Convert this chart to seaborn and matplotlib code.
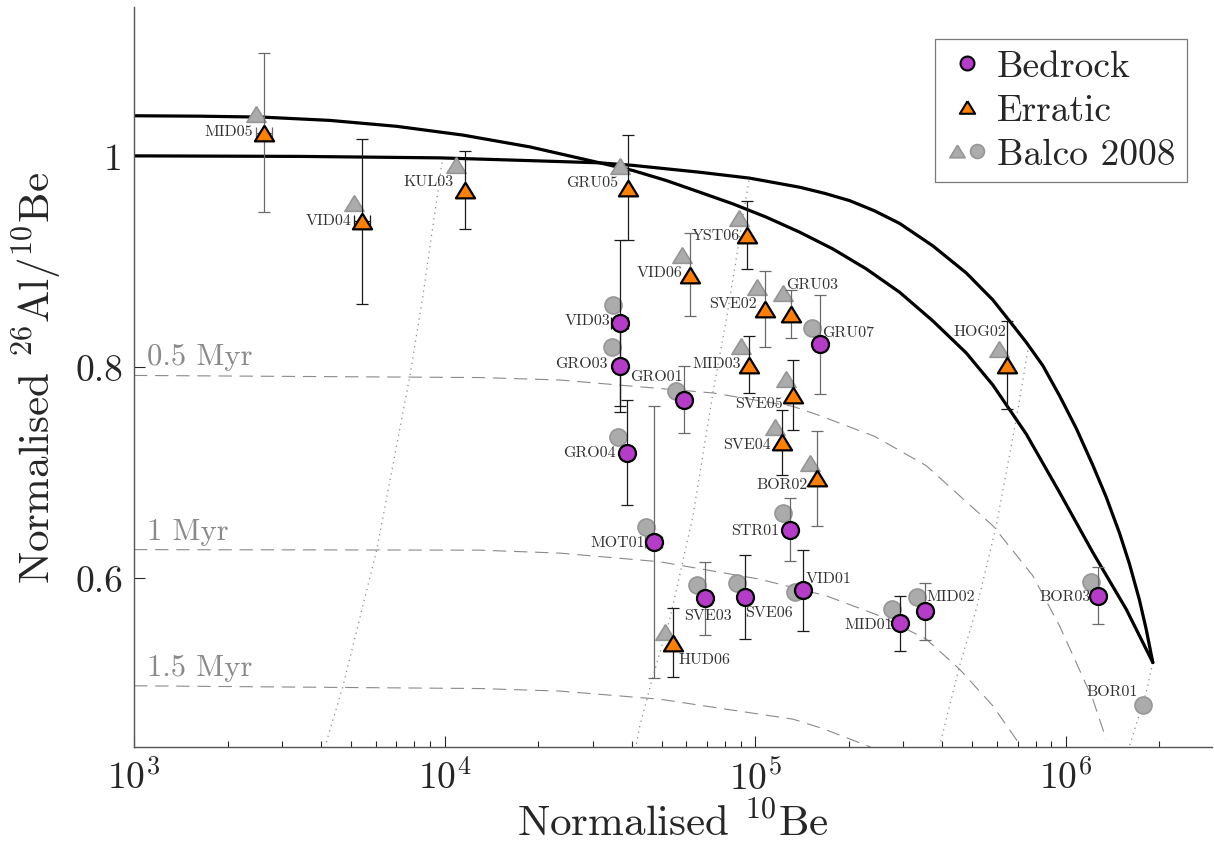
import numpy as np
import pandas as pd
import matplotlib
matplotlib.use('Agg')
import matplotlib.pyplot as plt
import seaborn as sns
from matplotlib.lines import Line2D
from matplotlib.legend_handler import HandlerTuple
from matplotlib.ticker import FixedLocator, FuncFormatter, LogLocator, NullFormatter

# ---- data ----
# erratics (orange triangles)
err_names = ['MID05', 'VID04', 'KUL03', 'GRU05', 'YST06', 'VID06', 'SVE02', 'GRU03',
             'MID03', 'SVE05', 'SVE04', 'BOR02', 'HUD06', 'HOG02']
err_be = [2627, 5430, 11600, 39000, 93900, 61600, 107900, 130200,
          95590, 132400, 122400, 158700, 54580, 645700]
err_ratio = [1.022, 0.938, 0.968, 0.970, 0.925, 0.8875, 0.855, 0.850,
             0.802, 0.7735, 0.7286, 0.6945, 0.539, 0.802]
err_dratio = [0.075, 0.078, 0.037, 0.050, 0.0325, 0.039, 0.036, 0.023,
              0.027, 0.0334, 0.031, 0.045, 0.0325, 0.0417]
err_dbe = [160, 330, 0, 0, 0, 0, 0, 0, 0, 0, 0, 0, 0, 0]

# bedrock (purple circles)
bed_names = ['VID03', 'GRO03', 'GRU07', 'GRO01', 'GRO04', 'STR01', 'MOT01', 'SVE03',
             'SVE06', 'VID01', 'MID01', 'MID02', 'BOR03']
bed_be = [36650, 36650, 162200, 59000, 38540, 129900, 47170, 68840,
          92570, 142600, 292100, 351600, 1276000]
bed_ratio = [0.8417, 0.801, 0.8215, 0.769, 0.719, 0.6458, 0.6344, 0.5807,
             0.5823, 0.5883, 0.5573, 0.5684, 0.5832]
bed_dratio = [0.079, 0.044, 0.047, 0.032, 0.050, 0.030, 0.129, 0.0345,
              0.040, 0.038, 0.026, 0.027, 0.027]
bed_dbe = [2200, 0, 0, 0, 0, 0, 2800, 0, 0, 0, 0, 0, 0]

# Balco 2008 values (grey)
balco_tri_be = [2470, 5117, 10900, 36650, 88700, 58050, 101700, 122700,
                89900, 125500, 115600, 149900, 51400, 608000]
balco_tri_ratio = [1.0398, 0.9555, 0.9918, 0.9908, 0.9412, 0.9065, 0.876, 0.870,
                   0.820, 0.7886, 0.7434, 0.709, 0.5485, 0.817]
balco_circ_names = bed_names + ['BOR01']
balco_circ_be = [34740, 34700, 152800, 55800, 36300, 123000, 44460, 64860,
                 87470, 134100, 275900, 332000, 1208000, 1780000]
balco_circ_ratio = [0.859, 0.8192, 0.837, 0.7775, 0.734, 0.6616, 0.648, 0.5934,
                    0.595, 0.587, 0.5706, 0.5817, 0.596, 0.4796]

# model curves
outer_be = [1000, 3420, 9660, 18820, 31610, 40460, 66320, 96070, 139200, 167500,
            201600, 242600, 292100, 373800, 478600, 583100, 659800, 746700, 844600,
            955900, 1082000, 1223000, 1351000, 1491000, 1606000, 1729000, 1817000, 1909000]
outer_ratio = [1.0, 0.9995, 0.9981, 0.9955, 0.9934, 0.991, 0.9845, 0.9789, 0.9703, 0.9645,
               0.9576, 0.9479, 0.936, 0.9147, 0.8891, 0.8635, 0.8436, 0.8234, 0.8013,
               0.7728, 0.7419, 0.7071, 0.6768, 0.6427, 0.6133, 0.5792, 0.5517, 0.520]
inner_be = [1000, 1631, 2601, 4273, 7008, 11450, 18820, 31610, 40460, 51820, 66320, 84890,
            108750, 139200, 178100, 228100, 292100, 373800, 478600, 583100, 746700,
            955900, 1223000, 1567000, 1909000]
inner_ratio = [1.038, 1.0376, 1.0367, 1.0336, 1.028, 1.0197, 1.0085, 0.9934, 0.9861, 0.9766,
               0.9656, 0.9545, 0.9419, 0.9277, 0.9118, 0.8929, 0.8708, 0.8436, 0.8133,
               0.7829, 0.7365, 0.6812, 0.6244, 0.5706, 0.520]

# burial isochrons
iso_labels = ['0.5 Myr', '1 Myr', '1.5 Myr']
iso05_be = [1000, 12990, 23500, 38530, 73200, 132400, 161400, 217100, 242600, 355900,
            583100, 784400, 955900, 1223000, 1351000]
iso05_ratio = [0.792, 0.790, 0.7877, 0.7823, 0.7754, 0.7627, 0.754, 0.7396, 0.7343, 0.7065,
               0.6496, 0.6022, 0.5548, 0.4853, 0.4474]
iso10_be = [1000, 12990, 23500, 49320, 103400, 169600, 251800, 355900, 455400, 583100, 721100]
iso10_ratio = [0.627, 0.6265, 0.6237, 0.6155, 0.599, 0.5832, 0.5643, 0.5422, 0.5137, 0.479, 0.44]
iso15_be = [1000, 12990, 23500, 49320, 80850, 132400, 165100, 235500]
iso15_ratio = [0.498, 0.4954, 0.493, 0.4853, 0.4758, 0.4664, 0.4575, 0.44]

# burial paths (dotted)
path1_be = [9874, 8516, 7733, 6055, 4707, 4120]
path1_ratio = [0.999, 0.8673, 0.7915, 0.6275, 0.4976, 0.4403]
path2_be = [95500, 80850, 73200, 63100, 53110, 46930, 42530, 41280]
path2_ratio = [0.9766, 0.8455, 0.776, 0.659, 0.5611, 0.5074, 0.46, 0.44]
path3_be = [755600, 693400, 597900, 515600, 455400, 392800]
path3_ratio = [0.8155, 0.7507, 0.6496, 0.5706, 0.5168, 0.441]
path4_be = [1909000, 1817000, 1606000]
path4_ratio = [0.52, 0.4916, 0.441]

# ---- styling ----
purple = '#B43CC8'
orange = '#FF8000'
grey_face = '#ABABAB'
grey_edge = '#969696'
tri = [(0, 0.82), (-1, -0.82), (1, -0.82), (0, 0.82)]
grey_err = {'MID05', 'VID06', 'SVE02', 'GRU03', 'GRU07', 'GRO01', 'BOR02', 'MOT01',
            'STR01', 'SVE03', 'MID02', 'BOR03'}
# label offsets in points (dx, dy, ha)
label_pos = {
    'MID05': (-8, 1, 'right'), 'VID04': (-8, 1, 'right'), 'KUL03': (-8, 6, 'right'),
    'GRU05': (-7, 4, 'right'), 'YST06': (-5, 0, 'right'), 'VID06': (-5, 2, 'right'),
    'SVE02': (-6, 4, 'right'), 'GRU03': (-3, 22, 'left'), 'GRU07': (1, 9, 'left'),
    'VID03': (-7, 2, 'right'), 'GRO03': (-9, 2, 'right'), 'GRO01': (-1, 17, 'right'),
    'MID03': (-6, 1, 'right'), 'SVE05': (-7, -6, 'right'), 'SVE04': (-8, -1, 'right'),
    'BOR02': (-7, -4, 'right'), 'GRO04': (-8, 0, 'right'), 'STR01': (-8, 0, 'right'),
    'MOT01': (-6, 0, 'right'), 'HUD06': (4, -12, 'left'), 'SVE03': (2, -12, 'center'),
    'SVE06': (0, -11, 'left'), 'VID01': (2, 9, 'left'), 'MID01': (-5, -1, 'right'),
    'MID02': (1, 11, 'left'), 'HOG02': (0, 24, 'right'), 'BOR03': (-6, 0, 'right'),
    'BOR01': (-4, 10, 'right'),
}

sns.set_style('white')
plt.rcParams['font.family'] = ['cmr10', 'DejaVu Serif']
plt.rcParams['mathtext.fontset'] = 'cm'
plt.rcParams['axes.formatter.use_mathtext'] = True
plt.rcParams['axes.unicode_minus'] = False

fig = plt.figure(figsize=(12.14, 8.54), dpi=100)
ax = fig.add_axes([0.1104, 0.1241, 0.8876, 0.8665])

# model curves
for bx, ry in [(outer_be, outer_ratio), (inner_be, inner_ratio)]:
    sns.lineplot(x=bx, y=ry, sort=False, estimator=None, color='k', lw=2.3, ax=ax, zorder=2.5)
for (bx, ry), lab in zip([(iso05_be, iso05_ratio), (iso10_be, iso10_ratio), (iso15_be, iso15_ratio)], iso_labels):
    sns.lineplot(x=bx, y=ry, sort=False, estimator=None, color='#8a8a8a', lw=0.8,
                 linestyle=(0, (12, 7)), ax=ax, zorder=1)
    ax.annotate(lab, (bx[0], ry[0]), xytext=(9, 8), textcoords='offset points',
                fontsize=22, color='#8a8a8a', va='baseline', ha='left')
for bx, ry in [(path1_be, path1_ratio), (path2_be, path2_ratio), (path3_be, path3_ratio), (path4_be, path4_ratio)]:
    sns.lineplot(x=bx, y=ry, sort=False, estimator=None, color='#8a8a8a', lw=0.9,
                 linestyle=(0, (1, 3.5)), ax=ax, zorder=1)

# Balco points
sns.scatterplot(x=balco_tri_be, y=balco_tri_ratio, marker=tri, s=190, color=grey_face,
                edgecolor=grey_edge, linewidth=1.2, ax=ax, zorder=3, legend=False)
sns.scatterplot(x=balco_circ_be, y=balco_circ_ratio, marker='o', s=150, color=grey_face,
                edgecolor=grey_edge, linewidth=1.2, ax=ax, zorder=3, legend=False)

# error bars
for names, bx, ry, dy, dx in [(err_names, err_be, err_ratio, err_dratio, err_dbe),
                              (bed_names, bed_be, bed_ratio, bed_dratio, bed_dbe)]:
    for n, x, y, e, ex in zip(names, bx, ry, dy, dx):
        c = '#6a6a6a' if n in grey_err else '#1a1a1a'
        ax.errorbar(x, y, yerr=e, xerr=ex if ex else None, fmt='none', ecolor=c,
                    elinewidth=0.9, capsize=4, capthick=0.9, zorder=3.5)

# sample points
bed = pd.DataFrame({'be': bed_be, 'ratio': bed_ratio})
err = pd.DataFrame({'be': err_be, 'ratio': err_ratio})
sns.scatterplot(data=err, x='be', y='ratio', marker=tri, s=190, color=orange,
                edgecolor='k', linewidth=1.6, ax=ax, zorder=4, legend=False)
sns.scatterplot(data=bed, x='be', y='ratio', marker='o', s=150, color=purple,
                edgecolor='k', linewidth=1.6, ax=ax, zorder=4, legend=False)

# sample labels
for names, bx, ry in [(err_names, err_be, err_ratio), (bed_names, bed_be, bed_ratio),
                      (['BOR01'], balco_circ_be[-1:], balco_circ_ratio[-1:])]:
    for n, x, y in zip(names, bx, ry):
        dx, dy, ha = label_pos[n]
        ax.annotate(n, (x, y), xytext=(dx, dy), textcoords='offset points',
                    fontsize=11.5, color='#333333', ha=ha, va='center', zorder=5)

# axes
ax.set_xscale('log')
ax.set_xlim(1e3, 10 ** 6.47)
ax.set_ylim(0.44, 1.141)
ax.xaxis.set_major_locator(LogLocator(base=10, numticks=10))
ax.xaxis.set_minor_locator(LogLocator(base=10, subs=np.arange(2, 10), numticks=10))
ax.xaxis.set_minor_formatter(NullFormatter())
ax.yaxis.set_major_locator(FixedLocator([0.6, 0.8, 1.0]))
ax.yaxis.set_major_formatter(FuncFormatter(lambda v, p: '%g' % v))
ax.tick_params(which='major', direction='in', length=8, width=0.8, color='#262626',
               labelsize=27, pad=8, bottom=True, left=True, top=False, right=False)
ax.tick_params(which='minor', direction='in', length=4, width=0.8, color='#262626',
               bottom=True, left=False)
for s in ['top', 'right']:
    ax.spines[s].set_visible(False)
for s in ['left', 'bottom']:
    ax.spines[s].set_color('#555555')
    ax.spines[s].set_linewidth(1.0)
ax.set_xlabel(r'Normalised $^{10}$Be', fontsize=31, labelpad=4)
ax.set_ylabel(r'Normalised $^{26}$Al/$^{10}$Be', fontsize=31, labelpad=8)

# legend
h_bed = Line2D([], [], marker='o', ls='none', mfc=purple, mec='k', ms=10, mew=1.5)
h_err = Line2D([], [], marker=tri, ls='none', mfc=orange, mec='k', ms=11, mew=1.5)
h_bt = Line2D([], [], marker=tri, ls='none', mfc=grey_face, mec=grey_edge, ms=11, mew=1.2)
h_bc = Line2D([], [], marker='o', ls='none', mfc=grey_face, mec=grey_edge, ms=10, mew=1.2)
leg = ax.legend([h_bed, h_err, (h_bt, h_bc)], ['Bedrock', 'Erratic', 'Balco 2008'],
                handler_map={tuple: HandlerTuple(ndivide=None, pad=0)},
                loc='upper right', bbox_to_anchor=(0.977, 0.957), borderaxespad=0,
                fontsize=27, frameon=True, fancybox=False, framealpha=1,
                edgecolor='#7a7a7a', handlelength=1.1, handletextpad=0.25,
                labelspacing=0.28, borderpad=0.3)
leg.get_frame().set_linewidth(0.9)

fig.savefig('out.png', dpi=100)
